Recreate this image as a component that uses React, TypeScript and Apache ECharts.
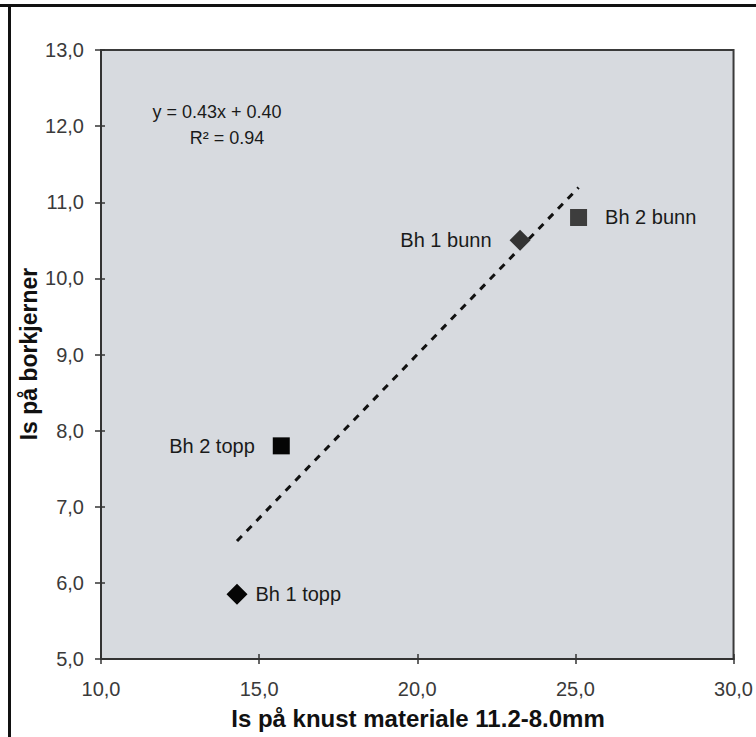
import React, { useEffect, useRef } from "react";
import * as echarts from "echarts";

const pointNames = ["Bh 1 topp", "Bh 2 topp", "Bh 1 bunn", "Bh 2 bunn"];
const xValues = [14.3, 15.7, 23.25, 25.1];
const yValues = [5.85, 7.8, 10.5, 10.8];
const pointSymbols = ["diamond", "rect", "diamond", "rect"];
const pointColors = ["#050505", "#050505", "#333333", "#3d3d3d"];
const labelSides = ["right", "left", "left", "right"];

const trendSlope = 0.43;
const trendIntercept = 0.4;
const trendEquation = "y = 0.43x + 0.40";
const trendR2 = "R² = 0.94";

const xAxisTitle = "Is på knust materiale 11.2-8.0mm";
const yAxisTitle = "Is på borkjerner";

const FONT = "'Liberation Sans', Arial, sans-serif";

export default function App() {
  const ref = useRef<HTMLDivElement>(null);
  useEffect(() => {
    if (!ref.current) return;
    const chart = echarts.init(ref.current, undefined, { renderer: "svg" });
    const xmin = Math.min(...xValues);
    const xmax = Math.max(...xValues);
    const trend = [
      [xmin, trendSlope * xmin + trendIntercept],
      [xmax, trendSlope * xmax + trendIntercept],
    ];
    const fmt = (v: number) => v.toFixed(1).replace(".", ",");
    const axisCommon = {
      type: "value" as const,
      splitLine: { show: false },
    };
    chart.setOption({
      animation: false,
      backgroundColor: "#ffffff",
      textStyle: { fontFamily: FONT },
      grid: {
        left: 101,
        right: 18,
        top: 50,
        bottom: 78,
        show: true,
        backgroundColor: "#d7dadf",
        borderColor: "#3a3a3a",
        borderWidth: 2,
      },
      xAxis: [
        {
          ...axisCommon,
          min: 10,
          max: 30,
          interval: 5,
          position: "bottom",
          axisLine: { show: true, lineStyle: { color: "#333", width: 2 } },
          axisTick: { show: true, inside: false, length: 5, lineStyle: { color: "#333", width: 1.5 } },
          axisLabel: { fontSize: 20, color: "#3a3a3a", margin: 20, formatter: fmt, fontFamily: FONT },
        },
        {
          ...axisCommon,
          min: 10,
          max: 30,
          interval: 5,
          position: "bottom",
          axisLine: { show: false },
          axisTick: { show: true, inside: true, length: 5, lineStyle: { color: "#333", width: 1.5 } },
          axisLabel: { show: false },
        },
      ],
      yAxis: [
        {
          ...axisCommon,
          min: 5,
          max: 13,
          interval: 1,
          position: "left",
          axisLine: { show: true, lineStyle: { color: "#333", width: 2 } },
          axisTick: { show: true, inside: false, length: 6, lineStyle: { color: "#333", width: 1.5 } },
          axisLabel: { fontSize: 20, color: "#3a3a3a", margin: 17, formatter: fmt, fontFamily: FONT },
        },
        {
          ...axisCommon,
          min: 5,
          max: 13,
          interval: 1,
          position: "left",
          axisLine: { show: false },
          axisTick: { show: true, inside: true, length: 4, lineStyle: { color: "#333", width: 1.5 } },
          axisLabel: { show: false },
        },
      ],
      series: [
        {
          type: "line",
          data: trend,
          symbol: "none",
          lineStyle: { color: "#111", width: 3, type: [7, 7] },
          silent: true,
          z: 2,
        },
        {
          type: "scatter",
          z: 3,
          data: pointNames.map((n, i) => ({
            name: n,
            value: [xValues[i], yValues[i]],
            symbol: pointSymbols[i],
            symbolSize: pointSymbols[i] === "rect" ? 17 : 21,
            itemStyle: { color: pointColors[i], opacity: 1 },
            label: {
              show: true,
              position: labelSides[i],
              distance: labelSides[i] === "right" && pointSymbols[i] === "diamond" ? 8 : 18,
              formatter: n,
              fontSize: 20,
              color: "#1a1a1a",
              fontFamily: FONT,
            },
          })),
        },
      ],
      graphic: [
        {
          type: "line",
          shape: { x1: 0, y1: 5.5, x2: 756, y2: 5.5 },
          style: { stroke: "#111", lineWidth: 3 },
        },
        {
          type: "line",
          shape: { x1: 9.5, y1: 4, x2: 9.5, y2: 737 },
          style: { stroke: "#111", lineWidth: 3 },
        },
        {
          type: "text",
          x: 217,
          y: 112,
          style: {
            text: trendEquation,
            fontSize: 18,
            fill: "#1a1a1a",
            fontFamily: FONT,
            align: "center",
            verticalAlign: "middle",
          },
        },
        {
          type: "text",
          x: 227,
          y: 138,
          style: {
            text: trendR2,
            fontSize: 18,
            fill: "#1a1a1a",
            fontFamily: FONT,
            align: "center",
            verticalAlign: "middle",
          },
        },
        {
          type: "text",
          x: 418,
          y: 718,
          style: {
            text: xAxisTitle,
            fontSize: 24,
            fontWeight: "bold",
            fill: "#111",
            fontFamily: FONT,
            align: "center",
            verticalAlign: "middle",
          },
        },
        {
          type: "text",
          x: 29,
          y: 354,
          rotation: Math.PI / 2,
          style: {
            text: yAxisTitle,
            fontSize: 23,
            fontWeight: "bold",
            fill: "#111",
            fontFamily: FONT,
            align: "center",
            verticalAlign: "middle",
          },
        },
      ],
    });
    return () => chart.dispose();
  }, []);
  return <div ref={ref} style={{ width: 756, height: 737, position: "absolute", left: 0, top: 0 }} />;
}
